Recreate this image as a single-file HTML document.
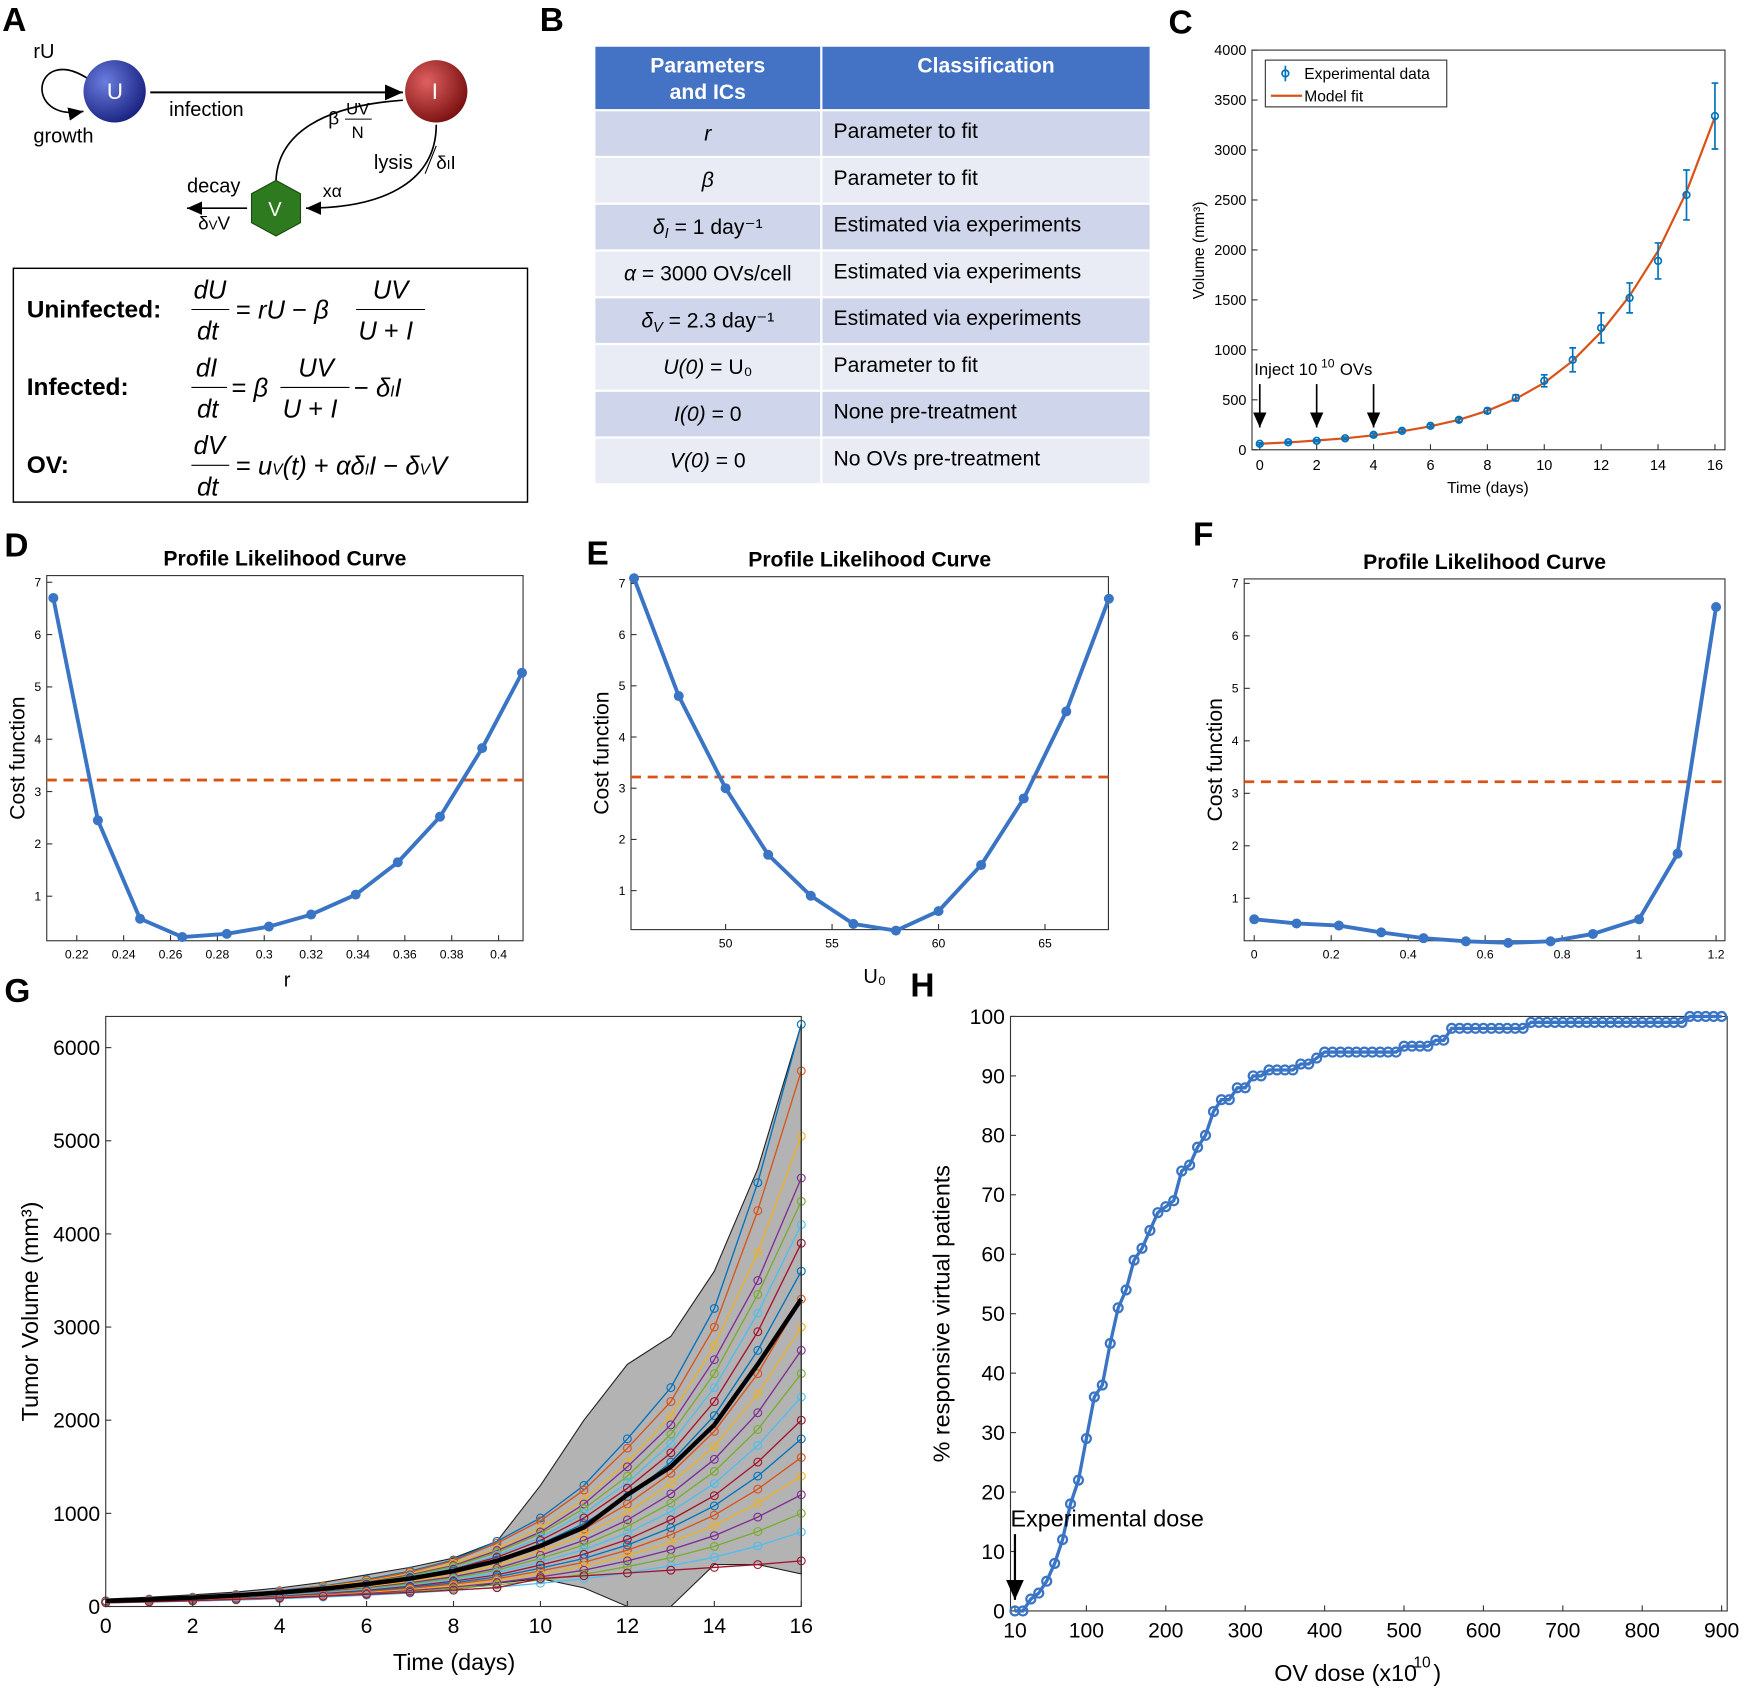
<!DOCTYPE html>
<html><head><meta charset="utf-8"><style>
html,body{margin:0;padding:0;background:#fff}
svg{display:block}
text{font-family:"Liberation Sans",sans-serif}
.ser{font-family:"Liberation Serif",serif;font-style:italic}
</style></head><body>
<svg id="fig" width="1745" height="1690" viewBox="0 0 1568 1518" preserveAspectRatio="none" xmlns="http://www.w3.org/2000/svg">
<defs>
<radialGradient id="gU" cx="0.35" cy="0.35" r="0.7"><stop offset="0" stop-color="#6a7ee0"/><stop offset="1" stop-color="#1a2280"/></radialGradient>
<radialGradient id="gI" cx="0.35" cy="0.35" r="0.7"><stop offset="0" stop-color="#e06060"/><stop offset="1" stop-color="#7a1010"/></radialGradient>
<marker id="ah" markerWidth="10" markerHeight="10" refX="9" refY="5" orient="auto"><path d="M0,1 L9,5 L0,9 z" fill="#000"/></marker>
</defs>
<g font-weight="bold" font-size="30">
<text x="2" y="28">A</text><text x="485" y="28">B</text><text x="1050" y="30">C</text>
<text x="4" y="500">D</text><text x="527" y="507">E</text><text x="1072" y="490">F</text>
<text x="4" y="900">G</text><text x="818" y="895">H</text>
</g>
<g>
<path d="M78,70 C30,40 20,110 75,100" fill="none" stroke="#000" stroke-width="1.5" marker-end="url(#ah)"/>
<text x="30" y="52" font-size="18">rU</text><text x="30" y="128" font-size="18">growth</text>
<circle cx="103" cy="82" r="28" fill="url(#gU)"/><text x="96" y="89" font-size="20" fill="#fff">U</text>
<circle cx="392" cy="82" r="28" fill="url(#gI)"/><text x="388" y="89" font-size="20" fill="#fff">I</text>
<line x1="135" y1="83" x2="362" y2="83" stroke="#000" stroke-width="1.8" marker-end="url(#ah)"/>
<text x="152" y="104" font-size="18">infection</text>
<path d="M248,162 C250,120 290,95 362,90" fill="none" stroke="#000" stroke-width="1.5"/>
<text x="295" y="112" font-size="17">β</text><text x="311" y="103" font-size="15">UV</text><line x1="310" y1="107" x2="334" y2="107" stroke="#000"/><text x="316" y="124" font-size="15">N</text>
<text x="336" y="152" font-size="18">lysis</text><line x1="382" y1="156" x2="392" y2="131" stroke="#000"/><text x="392" y="152" font-size="17">δ<tspan font-size="12">I</tspan>I</text>
<path d="M392,112 C392,160 350,187 275,187" fill="none" stroke="#000" stroke-width="1.5" marker-end="url(#ah)"/>
<text x="290" y="177" font-size="16">xα</text>
<polygon points="248,162 270,174 270,200 248,212 226,200 226,174" fill="#2e7a1e" stroke="#1a4a10"/>
<text x="241" y="194" font-size="18" fill="#fff">V</text>
<line x1="222" y1="187" x2="168" y2="187" stroke="#000" stroke-width="1.5" marker-end="url(#ah)"/>
<text x="168" y="173" font-size="18">decay</text><text x="178" y="206" font-size="17">δ<tspan font-size="12">V</tspan>V</text>
</g>
<g>
<rect x="12" y="241" width="462" height="210" fill="#fff" stroke="#000" stroke-width="1.3"/>
<g font-size="22" font-weight="bold"><text x="24" y="285">Uninfected:</text><text x="24" y="355">Infected:</text><text x="24" y="425">OV:</text></g>
<g class="ser" font-size="23">
<text x="174" y="268">dU</text><line x1="172" y1="278" x2="206" y2="278" stroke="#000"/><text x="177" y="305">dt</text>
<text x="212" y="286"><tspan font-style="normal">=</tspan> rU <tspan font-style="normal">−</tspan> β</text>
<text x="335" y="268">UV</text><line x1="320" y1="278" x2="382" y2="278" stroke="#000"/><text x="322" y="305">U <tspan font-style="normal">+</tspan> I</text>
<text x="176" y="338">dI</text><line x1="172" y1="348" x2="204" y2="348" stroke="#000"/><text x="177" y="375">dt</text>
<text x="208" y="356"><tspan font-style="normal">=</tspan> β</text>
<text x="268" y="338">UV</text><line x1="252" y1="348" x2="314" y2="348" stroke="#000"/><text x="254" y="375">U <tspan font-style="normal">+</tspan> I</text>
<text x="318" y="356"><tspan font-style="normal">−</tspan> δ<tspan font-size="14">I</tspan>I</text>
<text x="174" y="408">dV</text><line x1="172" y1="418" x2="206" y2="418" stroke="#000"/><text x="177" y="445">dt</text>
<text x="212" y="426"><tspan font-style="normal">=</tspan> u<tspan font-size="14">V</tspan>(t) <tspan font-style="normal">+</tspan> αδ<tspan font-size="14">I</tspan>I <tspan font-style="normal">−</tspan> δ<tspan font-size="14">V</tspan>V</text>
</g></g>
<g id="tableB">
<rect x="535" y="42" width="498" height="56" fill="#4472c4"/>
<line x1="738" y1="42" x2="738" y2="98" stroke="#fff" stroke-width="2"/>
<g fill="#fff" font-weight="bold" font-size="19" text-anchor="middle"><text x="636" y="65">Parameters</text><text x="636" y="89">and ICs</text><text x="886" y="65">Classification</text></g>
</g>
<g id="chartC"></g>
<g id="chartD"></g>
<g id="chartE"></g>
<g id="chartF"></g>
<g id="chartG"></g>
<g id="chartH"></g>
</svg>
<script>
const tableParamMain=["r","β","δ","α","δ","U(0)","I(0)","V(0)"];
const tableParamSub=["","","I","","V","","",""];
const tableParamRest=["",""," =  1 day⁻¹"," =  3000 OVs/cell"," = 2.3 day⁻¹"," =  U₀"," =  0"," =  0"];
const tableClass=["Parameter to fit","Parameter to fit","Estimated via experiments","Estimated via experiments","Estimated via experiments","Parameter to fit","None pre-treatment","No OVs pre-treatment"];
const cDays=[0,1,2,3,4,5,6,7,8,9,10,11,12,13,14,15,16];
const cVol=[60,75,90,115,150,190,240,300,390,520,690,900,1220,1520,1890,2550,3340];
const cErr=[10,10,10,12,15,15,15,20,25,30,60,120,150,150,180,250,330];
const cFit=[60,74,92,115,145,185,235,300,390,510,670,890,1180,1540,1990,2580,3330];
const cXTicks=[0,2,4,6,8,10,12,14,16];
const cYTicks=[0,500,1000,1500,2000,2500,3000,3500,4000];
const dX=[0.21,0.229,0.247,0.265,0.284,0.302,0.32,0.339,0.357,0.375,0.393,0.41];
const dY=[6.7,2.45,0.57,0.22,0.28,0.42,0.65,1.03,1.65,2.52,3.83,5.27];
const dXTicks=[0.22,0.24,0.26,0.28,0.3,0.32,0.34,0.36,0.38,0.4];
const eX=[45.7,47.8,50,52,54,56,58,60,62,64,66,68];
const eY=[7.1,4.8,3.0,1.7,0.9,0.35,0.22,0.6,1.5,2.8,4.5,6.7];
const eXTicks=[50,55,60,65];
const fX=[0,0.11,0.22,0.33,0.44,0.55,0.66,0.77,0.88,1.0,1.1,1.2];
const fY=[0.6,0.52,0.48,0.35,0.24,0.18,0.15,0.18,0.32,0.6,1.85,6.55];
const fXTicks=[0,0.2,0.4,0.6,0.8,1,1.2];
const profYTicks=[1,2,3,4,5,6,7];
const threshold=3.22;
const gDays=[0,1,2,3,4,5,6,7,8,9,10,11,12,13,14,15,16];
const gMean=[60,75,95,120,150,190,240,300,380,490,650,850,1200,1500,1950,2600,3300];
const gUpper=[80,100,125,155,200,260,340,420,520,700,1300,2000,2600,2900,3600,4700,6250];
const gLower=[40,50,60,72,90,110,130,150,180,250,300,200,0,0,450,450,350];
const gSeries=[
[60,80,100,130,170,220,290,380,500,700,950,1300,1800,2350,3200,4550,6250],
[60,78,98,125,165,215,280,370,490,680,920,1250,1700,2200,3000,4250,5750],
[60,75,95,120,160,210,270,350,460,620,840,1150,1550,2050,2800,3800,5050],
[60,75,95,120,155,200,260,340,440,600,800,1100,1500,1950,2650,3500,4600],
[55,72,92,115,150,195,255,330,430,580,780,1050,1400,1850,2500,3350,4350],
[55,70,90,112,148,190,245,320,410,550,740,1000,1330,1750,2350,3150,4100],
[55,70,88,110,145,185,240,310,400,530,710,950,1270,1650,2200,2950,3900],
[55,68,85,108,140,180,230,300,380,500,670,890,1180,1550,2050,2750,3600],
[50,65,82,105,135,172,220,285,360,470,630,830,1100,1430,1880,2500,3300],
[50,64,80,100,130,165,210,270,340,440,590,770,1010,1320,1720,2280,3000],
[50,62,78,98,125,160,200,255,320,410,550,710,930,1210,1580,2080,2750],
[50,60,76,95,120,152,192,243,305,390,515,660,860,1110,1450,1900,2500],
[48,58,73,92,115,146,183,230,290,365,480,610,790,1020,1320,1730,2250],
[48,57,70,88,110,138,173,217,272,340,445,560,720,930,1190,1550,2000],
[45,55,68,85,106,132,165,205,255,318,412,515,660,845,1080,1400,1800],
[45,54,66,82,102,126,157,194,240,298,382,475,605,770,980,1260,1600],
[45,53,64,79,97,120,148,182,224,276,350,432,548,690,870,1110,1400],
[42,51,62,76,93,114,140,170,208,254,318,390,490,610,760,960,1200],
[42,50,60,73,89,108,131,158,191,231,285,345,428,525,645,805,1000],
[40,48,58,70,84,101,121,145,173,207,250,298,362,438,530,650,800],
[40,50,62,76,92,110,130,152,176,202,300,330,360,390,420,450,490]
];
const gXTicks=[0,2,4,6,8,10,12,14,16];
const gYTicks=[0,1000,2000,3000,4000,5000,6000];
const hDose=[10,20,30,40,50,60,70,80,90,100,110,120,130,140,150,160,170,180,190,200,210,220,230,240,250,260,270,280,290,300,310,320,330,340,350,360,370,380,390,400,410,420,430,440,450,460,470,480,490,500,510,520,530,540,550,560,570,580,590,600,610,620,630,640,650,660,670,680,690,700,710,720,730,740,750,760,770,780,790,800,810,820,830,840,850,860,870,880,890,900];
const hPct=[0,0,2,3,5,8,12,18,22,29,36,38,45,51,54,59,61,64,67,68,69,74,75,78,80,84,86,86,88,88,90,90,91,91,91,91,92,92,93,94,94,94,94,94,94,94,94,94,94,95,95,95,95,96,96,98,98,98,98,98,98,98,98,98,98,99,99,99,99,99,99,99,99,99,99,99,99,99,99,99,99,99,99,99,99,100,100,100,100,100];
const hXTicks=[10,100,200,300,400,500,600,700,800,900];
const hYTicks=[0,10,20,30,40,50,60,70,80,90,100];
const colors=["#0072BD","#D95319","#EDB120","#7E2F8E","#77AC30","#4DBEEE","#A2142F"];

const NS="http://www.w3.org/2000/svg";
function mk(tag,attrs,parent){const e=document.createElementNS(NS,tag);for(const k in attrs)e.setAttribute(k,attrs[k]);parent.appendChild(e);return e;}
function txt(s,attrs,parent){const e=mk("text",attrs,parent);e.textContent=s;return e;}
function lin(x0,x1,d0,d1){return v=>x0+(v-d0)*(x1-x0)/(d1-d0);}

(function(){
 const g=document.getElementById("tableB");
 tableParamMain.forEach((p,i)=>{
  const y=98+i*42;
  const r=mk("rect",{x:535,y:y+2,width:498,height:40,fill:i%2==0?"#cfd5ea":"#e9ebf5"},g);
  
  
  mk("line",{x1:738,y1:y,x2:738,y2:y+42,stroke:"#fff","stroke-width":2},g);
  const t=mk("text",{x:636,y:y+28,"font-size":19,"text-anchor":"middle","font-family":"Liberation Serif, serif"},g);
  
  
  const a=document.createElementNS(NS,"tspan");a.setAttribute("font-style","italic");a.textContent=p;t.appendChild(a);
  if(tableParamSub[i]){const s=document.createElementNS(NS,"tspan");s.setAttribute("font-size","13");s.setAttribute("font-style","italic");s.setAttribute("dy","4");s.textContent=tableParamSub[i];t.appendChild(s);}
  if(tableParamRest[i]){const s=document.createElementNS(NS,"tspan");if(tableParamSub[i])s.setAttribute("dy","-4");s.textContent=tableParamRest[i];t.appendChild(s);}
  const c=txt(tableClass[i],{x:749,y:y+26,"font-size":19},g);
  
  
 });
})();

function axes(g,box,xs,ys,xt,yt,fs,xfmt,yfmt){
 mk("rect",{x:box[0],y:box[1],width:box[2]-box[0],height:box[3]-box[1],fill:"none",stroke:"#333","stroke-width":1},g);
 xt.forEach(v=>{const x=xs(v);mk("line",{x1:x,y1:box[3],x2:x,y2:box[3]-5,stroke:"#333"},g);
  const t=txt(xfmt(v),{x:x,y:box[3]+fs+5,"font-size":fs,"text-anchor":"middle"},g);
  
  });
 yt.forEach(v=>{const y=ys(v);mk("line",{x1:box[0],y1:y,x2:box[0]+5,y2:y,stroke:"#333"},g);
  const t=txt(yfmt(v),{x:box[0]-5,y:y+fs*0.35,"font-size":fs,"text-anchor":"end"},g);
  
  });
}
function path(xa,ya,xs,ys){return xa.map((v,i)=>(i?"L":"M")+xs(v).toFixed(1)+","+ys(ya[i]).toFixed(1)).join(" ");}

(function(){
 const g=document.getElementById("chartC");const box=[1125,45,1550,404];
 const xs=lin(1132,1541,0,16),ys=lin(404,45,0,4000);
 axes(g,box,xs,ys,cXTicks,cYTicks,13,v=>v,v=>v);
 const l=mk("path",{d:path(cDays,cFit,xs,ys),fill:"none",stroke:"#D95319","stroke-width":2},g);
 
 
 cDays.forEach((d,i)=>{const x=xs(d);
  const e=mk("path",{d:`M${x},${ys(cVol[i]-cErr[i])}V${ys(cVol[i]+cErr[i])}M${x-3},${ys(cVol[i]-cErr[i])}h6M${x-3},${ys(cVol[i]+cErr[i])}h6`,stroke:"#0072BD","stroke-width":1.5},g);
  
  
  const c=mk("circle",{cx:x,cy:ys(cVol[i]),r:3,fill:"none",stroke:"#0072BD","stroke-width":1.5},g);
  
  });
 mk("rect",{x:1137,y:54,width:163,height:42,fill:"#fff",stroke:"#333"},g);
 mk("circle",{cx:1155,cy:66,r:3,fill:"none",stroke:"#0072BD","stroke-width":1.5},g);
 mk("line",{x1:1155,y1:59,x2:1155,y2:73,stroke:"#0072BD","stroke-width":1.5},g);
 txt("Experimental data",{x:1172,y:71,"font-size":14},g);
 mk("line",{x1:1142,y1:86,x2:1170,y2:86,stroke:"#D95319","stroke-width":2},g);
 txt("Model fit",{x:1172,y:91,"font-size":14},g);
 txt("Time (days)",{x:1337,y:443,"font-size":14,"text-anchor":"middle"},g);
 const yt=txt("Volume (mm³)",{x:0,y:0,"font-size":14,"text-anchor":"middle",transform:"translate(1082,225) rotate(-90)"},g);
 
 
 txt("Inject 10",{x:1127,y:337,"font-size":15},g);txt("10",{x:1187,y:330,"font-size":11},g);txt("OVs",{x:1204,y:337,"font-size":15},g);
 [0,2,4].forEach(d=>mk("line",{x1:xs(d),y1:345,x2:xs(d),y2:384,stroke:"#000","stroke-width":1.5,"marker-end":"url(#ah)"},g));
})();

function profile(id,box,xs,ys,X,Y,xt,xfmt,xlabel,xlx,xly){
 const g=document.getElementById(id);
 axes(g,box,xs,ys,xt,profYTicks,11,xfmt,v=>v);
 const th=mk("line",{x1:box[0],y1:ys(threshold),x2:box[2],y2:ys(threshold),stroke:"#D95319","stroke-width":2.5,"stroke-dasharray":"9,6"},g);
 
 
 const l=mk("path",{d:path(X,Y,xs,ys),fill:"none",stroke:"#3a74c4","stroke-width":3.5},g);
 
 
 X.forEach((x,i)=>{const c=mk("circle",{cx:xs(x),cy:ys(Y[i]),r:4.5,fill:"#3a74c4"},g);
  
  });
 txt("Profile Likelihood Curve",{x:(box[0]+box[2])/2,y:box[1]-9,"font-size":19,"font-weight":"bold","text-anchor":"middle"},g);
 txt("Cost function",{x:0,y:0,"font-size":19,"text-anchor":"middle",transform:`translate(${box[0]-20},${(box[1]+box[3])/2}) rotate(-90)`},g);
 if(xlabel)txt(xlabel,{x:xlx,y:xly,"font-size":18,"text-anchor":"middle"},g);
}
profile("chartD",[42,517,470,845],lin(69,448,0.22,0.4),lin(852,523,0,7),dX,dY,dXTicks,v=>String(+v.toFixed(2)),"r",258,886);
profile("chartE",[567,518,996,835],lin(652,939,50,65),lin(846,524,0,7),eX,eY,eXTicks,v=>v,"U₀",786,883);
profile("chartF",[1118,520,1550,845],lin(1127,1542,0,1.2),lin(854,524,0,7),fX,fY,fXTicks,v=>String(+v.toFixed(1)),"",0,0);

(function(){
 const g=document.getElementById("chartG");const box=[95,913,720,1443];
 const xs=lin(95,720,0,16),ys=lin(1443,941,0,6000);
 const up=gDays.map((d,i)=>xs(d)+","+ys(gUpper[i]));
 const lo=gDays.slice().reverse().map((d,j)=>{const i=gDays.length-1-j;return xs(d)+","+ys(gLower[i]);});
 const band=mk("polygon",{points:up.concat(lo).join(" "),fill:"#b3b3b3",stroke:"#222","stroke-width":1},g);
 
 
 gSeries.forEach((s,k)=>{const col=colors[k%colors.length];
  const p=mk("path",{d:path(gDays,s,xs,ys),fill:"none",stroke:col,"stroke-width":1.2},g);
  
  
  s.forEach((v,i)=>{const c=mk("circle",{cx:xs(gDays[i]),cy:ys(v),r:3.5,fill:"none",stroke:col,"stroke-width":1},g);
   
   });});
 const m=mk("path",{d:path(gDays,gMean,xs,ys),fill:"none",stroke:"#000","stroke-width":4},g);
 
 
 axes(g,box,xs,ys,gXTicks,gYTicks,19,v=>v,v=>v);
 txt("Time (days)",{x:408,y:1500,"font-size":21,"text-anchor":"middle"},g);
 txt("Tumor Volume (mm³)",{x:0,y:0,"font-size":21,"text-anchor":"middle",transform:"translate(34,1178) rotate(-90)"},g);
})();

(function(){
 const g=document.getElementById("chartH");const box=[908,913,1552,1447];
 const xs=lin(912,1547,10,900),ys=lin(1447,913,0,100);
 axes(g,box,xs,ys,hXTicks,hYTicks,19,v=>v,v=>v);
 const l=mk("path",{d:path(hDose,hPct,xs,ys),fill:"none",stroke:"#3a74c4","stroke-width":3},g);
 
 
 hDose.forEach((d,i)=>{const c=mk("circle",{cx:xs(d),cy:ys(hPct[i]),r:4,fill:"none",stroke:"#3a74c4","stroke-width":2},g);
  
  });
 txt("Experimental dose",{x:908,y:1371,"font-size":21},g);
 mk("line",{x1:912,y1:1378,x2:912,y2:1437,stroke:"#000","stroke-width":2,"marker-end":"url(#ah)"},g);
 txt("OV dose (x10",{x:1145,y:1510,"font-size":21},g);txt("10",{x:1270,y:1498,"font-size":14},g);txt(")",{x:1288,y:1510,"font-size":21},g);
 txt("% responsive virtual patients",{x:0,y:0,"font-size":21,"text-anchor":"middle",transform:"translate(853,1180) rotate(-90)"},g);
})();
</script>
</body></html>
